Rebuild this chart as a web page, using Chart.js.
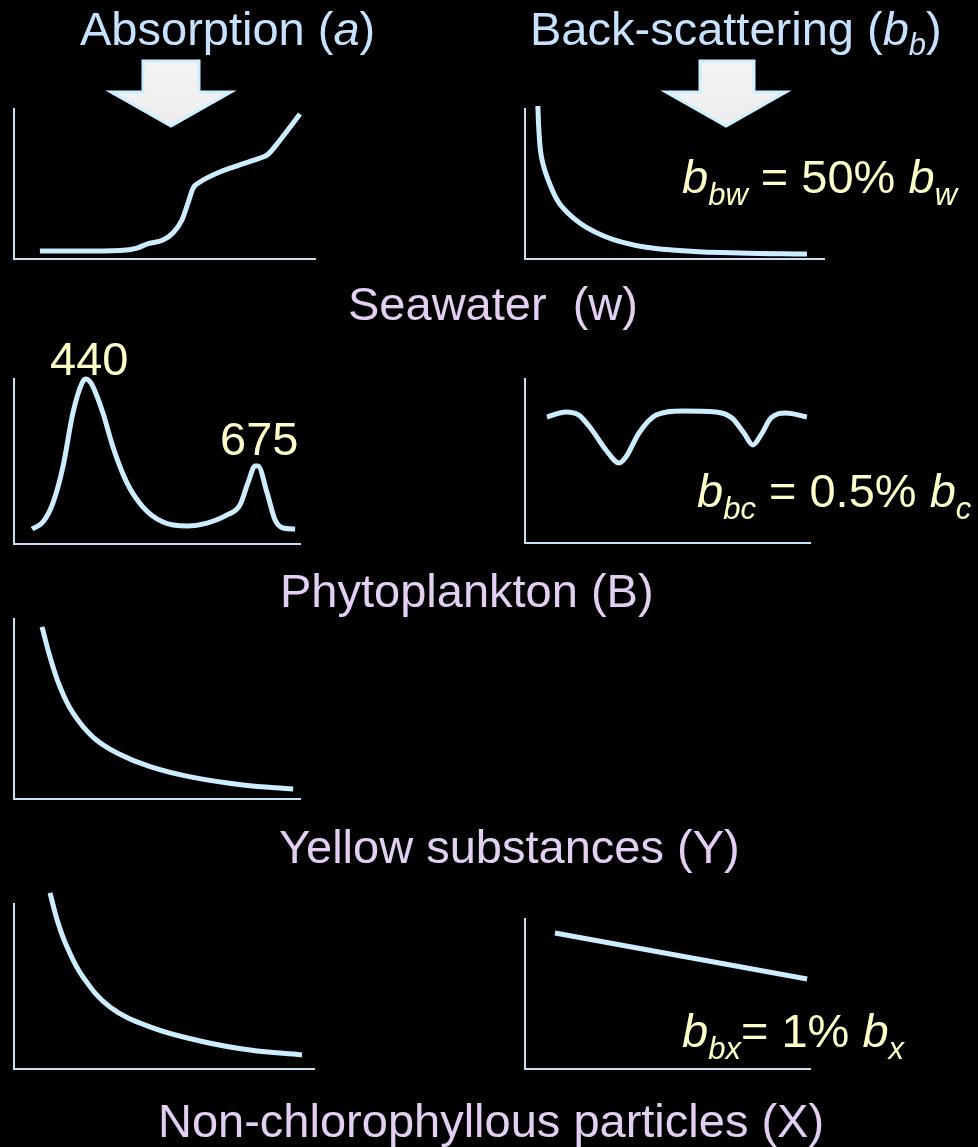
<!DOCTYPE html>
<html>
<head>
<meta charset="utf-8">
<script src="https://cdn.jsdelivr.net/npm/chart.js@4.4.0/dist/chart.umd.min.js"></script>
<style>
html, body { margin: 0; padding: 0; background: #000; }
#stage { position: relative; width: 978px; height: 1147px; background: #000; overflow: hidden; }
#stage canvas { position: absolute; }
#labels { position: absolute; left: 0; top: 0; pointer-events: none; }
#labels text { font-family: "Liberation Sans", Arial, sans-serif; font-size: 47px; white-space: pre; }
.t { fill: #C6E2FF; }
.s { fill: #E2CFF2; }
.y { fill: #FFFFC8; }
</style>
</head>
<body>
<div id="stage">
<svg id="labels" width="978" height="1147">
  <defs>
    <linearGradient id="arrowFill" x1="0" y1="0" x2="0" y2="1">
      <stop offset="0" stop-color="#F4F4F4"/>
      <stop offset="1" stop-color="#EDEDED"/>
    </linearGradient>
  </defs>
  <!-- column headers -->
  <text class="t" x="80" y="45">Absorption (<tspan font-style="italic">a</tspan>)</text>
  <text class="t" x="530" y="45">Back-scattering (<tspan font-style="italic">b</tspan><tspan font-style="italic" font-size="31" dy="10">b</tspan><tspan dy="-10">)</tspan></text>
  <polygon points="143,61 199,61 199,92 231,92 171,126 111,92 143,92" fill="url(#arrowFill)" stroke="#CDEFFF" stroke-width="3"/>
  <polygon points="700,61 754,61 754,92 786,92 726,126 666,92 700,92" fill="url(#arrowFill)" stroke="#CDEFFF" stroke-width="3"/>

  <!-- row names -->
  <text class="s" x="348" y="320">Seawater  (w)</text>
  <text class="s" x="280" y="607">Phytoplankton (B)</text>
  <text class="s" x="279" y="863">Yellow substances (Y)</text>
  <text class="s" x="158" y="1137">Non-chlorophyllous particles (X)</text>

  <!-- annotations -->
  <text class="y" x="50" y="375">440</text>
  <text class="y" x="220" y="455">675</text>
  <text class="y" x="682" y="193"><tspan font-style="italic">b</tspan><tspan font-style="italic" font-size="31" dy="12">bw</tspan><tspan dy="-12"> = 50% </tspan><tspan font-style="italic">b</tspan><tspan font-style="italic" font-size="31" dy="12">w</tspan></text>
  <text class="y" x="697" y="507"><tspan font-style="italic">b</tspan><tspan font-style="italic" font-size="31" dy="12">bc</tspan><tspan dy="-12"> = 0.5% </tspan><tspan font-style="italic">b</tspan><tspan font-style="italic" font-size="31" dy="12">c</tspan></text>
  <text class="y" x="682" y="1047"><tspan font-style="italic">b</tspan><tspan font-style="italic" font-size="31" dy="12">bx</tspan><tspan dy="-12">= 1% </tspan><tspan font-style="italic">b</tspan><tspan font-style="italic" font-size="31" dy="12">x</tspan></text>
</svg>
</div>
<script>
// x: position along the wavelength axis (% of axis length)
// y: relative magnitude (% of axis height)

// Seawater absorption
const waterAbsX = [8.6, 21.9, 35.2, 40.9, 44.2, 49.5, 52.8, 55.8, 57.8, 59.5, 61.8, 66.1, 72.8, 81.7, 84.1, 88.4, 95];
const waterAbsY = [5.3, 5.3, 5.7, 7.3, 10, 12.7, 17.3, 26, 37.3, 47.3, 51.3, 56, 61.3, 67.3, 69.3, 79.3, 96.7];

// Seawater back-scattering
const waterBbX = [4.3, 4.7, 5.7, 8.7, 12.4, 20.4, 32.4, 49.2, 71.6, 94.3];
const waterBbY = [102, 84, 66, 48, 34.7, 21.3, 11.3, 6, 4, 3.3];

// Phytoplankton absorption (peaks at 440 and 675 nm)
const phytoAbsX = [6.3, 10.1, 13.6, 17.1, 20.6, 23.8, 25.2, 27.3, 31.1, 34.6, 39.5, 45.1, 52.1, 60.5, 67.5, 74.5, 79, 81.8, 84.3, 85.3, 88.5, 91.3, 94.1, 98.3];
const phytoAbsY = [9.1, 13.3, 24.8, 46.7, 79.4, 97.6, 100, 96.4, 79.4, 58.8, 37, 22.4, 13.3, 10.9, 12.7, 17.6, 23.6, 37, 47.3, 47.3, 30.9, 14.5, 9.7, 9.1];

// Phytoplankton back-scattering
const phytoBbX = [7.7, 14.4, 18.9, 23.5, 28.4, 33, 35.4, 40, 46, 55.1, 67, 72.6, 76.8, 80, 82.8, 86.3, 91.6, 98.9];
const phytoBbY = [76.8, 79.9, 78, 68.9, 56.7, 48.8, 52.4, 67.1, 78, 80.5, 79.9, 76.2, 67.1, 59.8, 65.9, 76.2, 79.3, 76.8];

// Yellow substances absorption
const yellowAbsX = [9.8, 12.6, 16.1, 20.6, 27.6, 36, 47.6, 62.6, 80.1, 97.6];
const yellowAbsY = [95.6, 78.9, 62.2, 47.8, 34.4, 25.6, 18, 12, 7.8, 5.6];

// Non-chlorophyllous particles absorption
const partAbsX = [12, 14.7, 17.7, 23, 32, 45.3, 62, 78.7, 96];
const partAbsY = [106.7, 88.5, 73.9, 55.8, 37.6, 25.5, 17, 11.5, 8.5];

// Non-chlorophyllous particles back-scattering
const partBbX = [10.5, 99];
const partBbY = [90.7, 60];

const PAD = 20;
const lineColor = '#CCECFF';
const axisColor = '#C4E2F6';

const panels = [
  { left: 14,  top: 109, width: 301, height: 150, xs: waterAbsX,  ys: waterAbsY,  smooth: 'monotone' },
  { left: 525, top: 109, width: 299, height: 150, xs: waterBbX,   ys: waterBbY,   smooth: 'bezier' },
  { left: 14,  top: 379, width: 286, height: 165, xs: phytoAbsX,  ys: phytoAbsY,  smooth: 'monotone' },
  { left: 525, top: 379, width: 285, height: 164, xs: phytoBbX,   ys: phytoBbY,   smooth: 'monotone' },
  { left: 14,  top: 619, width: 286, height: 180, xs: yellowAbsX, ys: yellowAbsY, smooth: 'bezier' },
  { left: 14,  top: 904, width: 300, height: 165, xs: partAbsX,   ys: partAbsY,   smooth: 'bezier' },
  { left: 525, top: 919, width: 285, height: 150, xs: partBbX,    ys: partBbY,    smooth: 'bezier' }
];

function axisOptions(horizontal) {
  return {
    type: 'linear',
    min: 0,
    max: 100,
    grid: { display: false, drawTicks: false },
    ticks: { display: false },
    border: { display: true, color: axisColor, width: 2 },
    afterFit: function (s) {
      if (horizontal) s.height = 0; else s.width = 0;
    }
  };
}

function drawPanel(p) {
  const stage = document.getElementById('stage');
  const canvas = document.createElement('canvas');
  canvas.width = p.width + PAD * 2;
  canvas.height = p.height + PAD * 2;
  canvas.style.left = (p.left - PAD) + 'px';
  canvas.style.top = (p.top - PAD) + 'px';
  stage.insertBefore(canvas, document.getElementById('labels'));

  const points = p.xs.map((x, i) => ({ x: x, y: p.ys[i] }));
  new Chart(canvas.getContext('2d'), {
    type: 'line',
    data: {
      datasets: [{
        data: points,
        borderColor: lineColor,
        borderWidth: 5,
        pointRadius: 0,
        fill: false,
        cubicInterpolationMode: p.smooth === 'monotone' ? 'monotone' : 'default',
        tension: 0.4,
        borderCapStyle: 'butt',
        clip: false
      }]
    },
    options: {
      responsive: false,
      animation: false,
      devicePixelRatio: 1,
      layout: { padding: PAD },
      plugins: { legend: { display: false }, tooltip: { enabled: false } },
      scales: {
        x: axisOptions(true),
        y: axisOptions(false)
      }
    }
  });
}

panels.forEach(drawPanel);
</script>
</body>
</html>
